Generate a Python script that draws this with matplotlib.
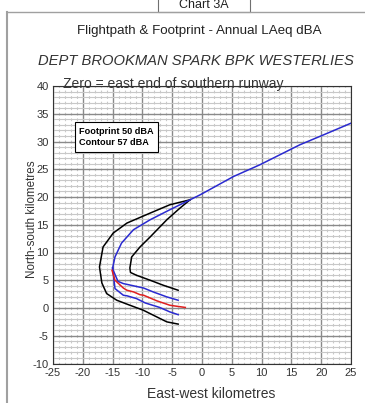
import matplotlib
matplotlib.use("Agg")
import matplotlib.pyplot as plt
from matplotlib.patches import Rectangle
from matplotlib.lines import Line2D

# flight path (blue), from the loop out to the east
path_x = [-15.0, -14.6, -13.5, -11.5, -8.7, -5.4, -2.0, -0.3, 5.3, 9.7, 16.4, 20.4, 25.0]
path_y = [7.2, 9.2, 11.7, 14.1, 15.9, 17.7, 19.5, 20.4, 23.7, 25.8, 29.4, 31.2, 33.3]

# 57 dBA contour edges (blue) and centre track (red)
c57_up_x = [-15.0, -14.9, -14.1, -13.2, -11.5, -9.8, -8.2, -5.9, -4.0]
c57_up_y = [7.2, 6.8, 4.8, 4.4, 4.0, 3.6, 2.9, 2.0, 1.4]
c57_lo_x = [-15.0, -14.9, -14.6, -13.2, -12.6, -11.0, -9.5, -7.1, -5.4, -4.0]
c57_lo_y = [7.2, 6.3, 3.5, 2.3, 2.2, 1.7, 0.9, 0.1, -0.7, -1.2]
track_x = [-15.1, -14.6, -13.2, -12.6, -11.5, -10.4, -9.8, -7.6, -5.4, -4.8, -2.8]
track_y = [6.8, 5.0, 3.6, 3.2, 2.9, 2.4, 2.3, 1.3, 0.5, 0.4, 0.1]

# 50 dBA footprint (black)
fp_out_x = [-2.0, -5.4, -8.7, -12.6, -14.9, -16.6, -17.2, -16.8, -16.0, -14.3, -12.1, -9.85, -7.6, -5.9, -4.0]
fp_out_y = [19.5, 18.6, 17.1, 15.3, 13.5, 11.0, 7.4, 4.5, 2.6, 1.4, 0.5, -0.4, -1.6, -2.5, -2.9]
fp_in_x = [-2.0, -3.7, -5.9, -8.7, -10.4, -11.8, -12.1, -12.0, -11.0, -8.7, -6.5, -4.0]
fp_in_y = [19.5, 18.0, 15.9, 12.8, 11.0, 9.2, 7.2, 6.4, 5.9, 5.0, 4.1, 3.2]

x_ticks = list(range(-25, 30, 5))
y_ticks = list(range(-10, 45, 5))

plt.rcParams['font.family'] = ['Liberation Sans', 'DejaVu Sans']
plt.rcParams['axes.unicode_minus'] = False

fig = plt.figure(figsize=(3.65, 4.03), dpi=100)
fig.patch.set_facecolor('white')

# outer panel frame and the "Chart 3A" tab
fig.add_artist(Line2D([7/365, 7/365], [0, 1 - 12/403], color='#a0a0a0', lw=1.5, transform=fig.transFigure))
fig.add_artist(Line2D([7/365, 1], [1 - 12/403, 1 - 12/403], color='#a0a0a0', lw=1.0, transform=fig.transFigure))
fig.add_artist(Rectangle((158/365, 1 - 12/403), 92/365, 14/403, transform=fig.transFigure,
                         facecolor='white', edgecolor='#707070', lw=0.8))
fig.text(204/365, 1 - 5/403, 'Chart 3A', ha='center', va='center', fontsize=9, color='#222222')

fig.text(199/365, 1 - 31/403, 'Flightpath & Footprint - Annual LAeq dBA',
         ha='center', va='center', fontsize=9.6, color='#222222')
fig.text(196/365, 1 - 61/403, 'DEPT BROOKMAN SPARK BPK WESTERLIES',
         ha='center', va='center', fontsize=10.6, style='italic', color='#333333')

ax = fig.add_axes([53/365, 1 - 363.5/403, 298/365, 277.5/403])
ax.set_xlim(-25, 25)
ax.set_ylim(-10, 40)
ax.set_xticks(x_ticks)
ax.set_yticks(y_ticks)
ax.set_xticks(range(-25, 26), minor=True)
ax.set_yticks(range(-10, 41), minor=True)
ax.grid(True, which='major', color='#8a8a8a', lw=1.0)
ax.grid(True, which='minor', axis='y', color='#c8c8c8', lw=0.8)
ax.grid(True, which='minor', axis='x', color='#c8c8c8', lw=0.8, linestyle=(1, (2.5, 2.5)))
ax.set_axisbelow(True)
ax.tick_params(which='both', length=0, labelsize=8, colors='#333333', pad=3)
for s in ax.spines.values():
    s.set_color('#333333')
    s.set_linewidth(0.8)

ax.plot(fp_out_x, fp_out_y, color='black', lw=1.1)
ax.plot(fp_in_x, fp_in_y, color='black', lw=1.1)
ax.plot(c57_up_x, c57_up_y, color='#2a2ad0', lw=1.1)
ax.plot(c57_lo_x, c57_lo_y, color='#2a2ad0', lw=1.1)
ax.plot(track_x, track_y, color='#e02020', lw=1.1)
ax.plot(path_x, path_y, color='#2a2ad0', lw=1.1)

ax.text(-23.4, 40.35, 'Zero = east end of southern runway', fontsize=10,
        color='#333333', va='center', ha='left', clip_on=False)
ax.text(-20.6, 30.8, 'Footprint 50 dBA\nContour 57 dBA', fontsize=6.6, fontweight='bold',
        color='black', va='center', ha='left', linespacing=1.35,
        bbox=dict(boxstyle='square,pad=0.5', facecolor='white', edgecolor='black', lw=0.8))

ax.set_xlabel('East-west kilometres', fontsize=10, color='#333333')
ax.xaxis.set_label_coords(0.53, -0.085)
ax.set_ylabel('North-south kilometres', fontsize=8.4, color='#333333')
ax.yaxis.set_label_coords(-0.052, 0.52)

fig.savefig('out.png', dpi=100)
